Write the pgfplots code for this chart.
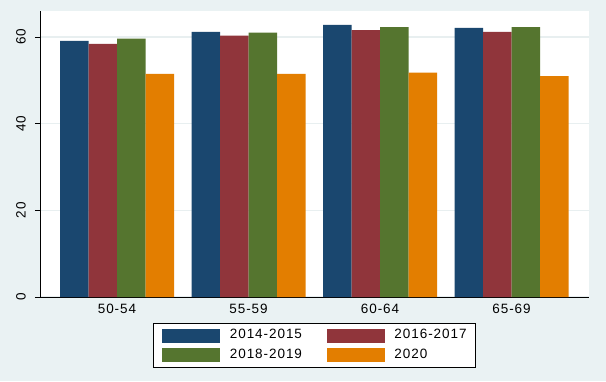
\documentclass[border=0pt]{standalone}
\usepackage{pgfplots}
\pgfplotsset{compat=1.18}
\usepackage{fontspec}
\setmainfont{Liberation Sans}[LetterSpace=7]
\definecolor{sNavy}{RGB}{26,71,111}
\definecolor{sMaroon}{RGB}{144,53,59}
\definecolor{sGreen}{RGB}{85,117,47}
\definecolor{sOrange}{RGB}{227,126,0}
\definecolor{sBg}{RGB}{234,242,243}
\definecolor{sGrid}{RGB}{232,239,240}
\begin{document}
\begin{tikzpicture}
\fill[sBg] (0pt,0pt) rectangle (606pt,381pt);
\begin{axis}[
  at={(40pt,84pt)}, anchor=south west,
  scale only axis, width=549pt, height=286pt,
  xmin=-0.5856, xmax=3.589, ymin=0, ymax=66,
  axis x line*=bottom, axis y line*=left,
  axis line style={black, line width=0.9pt},
  axis background/.style={fill=white},
  xtick={0,1,2,3}, xticklabels={50-54,55-59,60-64,65-69},
  ytick={0,20,40,60},
  /pgf/number format/assume math mode=true,
  x tick style={draw=none},
  y tick style={black, line width=0.9pt},
  tick align=outside, major tick length=5pt,
  ymajorgrids, grid style={sGrid, line width=1.5pt},
  tick label style={font=\fontsize{13.5}{15}\selectfont},
  xticklabel style={anchor=north, inner sep=0pt},
  xticklabel shift=2pt,
  yticklabel style={rotate=90, anchor=south, inner sep=0pt},
  yticklabel shift=9pt,
  legend columns=2,
  legend cell align=left,
  legend style={at={(0.5,-0.1696)}, anchor=center, draw=black, line width=0.8pt,
    fill=white, inner xsep=9pt, inner ysep=5pt, row sep=5.5pt,
    font=\fontsize{13.5}{15}\selectfont,
    nodes={inner sep=0pt},
    /tikz/every odd column/.style={column sep=9.5pt},
    /tikz/every even column/.style={column sep=25pt}},
]
\addplot[ybar, bar width=0.2167, bar shift=-0.325, fill=sNavy, draw=none,
  legend image code/.code={\fill[sNavy] (0pt,-8pt) rectangle (58pt,6pt);}]
  coordinates {(0,59.1) (1,61.2) (2,62.8) (3,62.1)};
\addlegendentry{2014-2015}
\addplot[ybar, bar width=0.2167, bar shift=-0.1083, fill=sMaroon, draw=none,
  legend image code/.code={\fill[sMaroon] (0pt,-8pt) rectangle (58pt,6pt);}]
  coordinates {(0,58.4) (1,60.3) (2,61.6) (3,61.2)};
\addlegendentry{2016-2017}
\addplot[ybar, bar width=0.2167, bar shift=0.1083, fill=sGreen, draw=none,
  legend image code/.code={\fill[sGreen] (0pt,-8pt) rectangle (58pt,6pt);}]
  coordinates {(0,59.6) (1,61.0) (2,62.3) (3,62.3)};
\addlegendentry{2018-2019}
\addplot[ybar, bar width=0.2167, bar shift=0.325, fill=sOrange, draw=none,
  legend image code/.code={\fill[sOrange] (0pt,-8pt) rectangle (58pt,6pt);}]
  coordinates {(0,51.5) (1,51.5) (2,51.8) (3,51.0)};
\addlegendentry{2020}
\end{axis}
\end{tikzpicture}
\end{document}
